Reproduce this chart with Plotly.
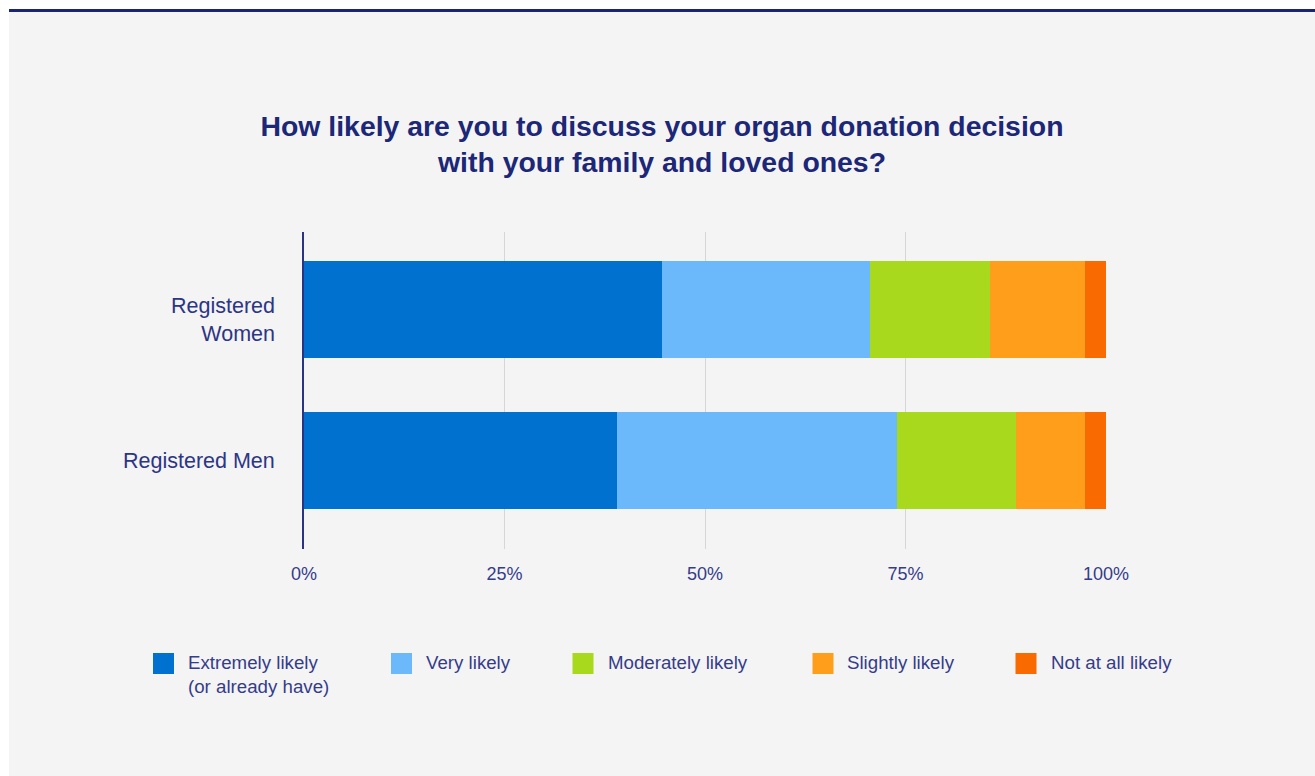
import plotly.graph_objects as go

# ---- data ----
groups = ["Registered Men", "Registered<br>Women"]
responses = ["Extremely likely<br>(or already have)", "Very likely", "Moderately likely",
             "Slightly likely", "Not at all likely"]
extremely = [39.0, 44.7]
very = [35.0, 25.9]
moderately = [14.8, 14.9]
slightly = [8.6, 11.9]
not_at_all = [2.6, 2.6]
series = [extremely, very, moderately, slightly, not_at_all]
colors = ["#0071ce", "#6bb9fb", "#a8d91c", "#ff9e1b", "#f96a00"]
tick_vals = [0, 25, 50, 75, 100]
tick_text = ["0%", "25%", "50%", "75%", "100%"]
title_text = "How likely are you to discuss your organ donation decision<br>with your family and loved ones?"

W, H = 1315, 776
L, R, T, B = 304, 1106, 232, 549  # plot area in pixels

def px(x):
    return (x - L) / (R - L)

def py(y):
    return (B - y) / (B - T)

FONT = "Liberation Sans, Arial, sans-serif"
NAVY = "#1c2777"
TXT = "#353c8a"

fig = go.Figure()
for name, vals, col in zip(responses, series, colors):
    fig.add_trace(go.Bar(
        y=groups, x=vals, name=name, orientation="h",
        marker=dict(color=col, line=dict(width=0)),
        showlegend=False,
        hovertemplate="%{x}%<extra></extra>",
    ))

shapes = [
    # textured-grey card background
    dict(type="rect", xref="paper", yref="paper", x0=px(9), x1=px(W + 5), y0=py(H + 5), y1=py(12),
         fillcolor="#f4f4f4", line=dict(width=0), layer="below"),
    # top navy rule
    dict(type="rect", xref="paper", yref="paper", x0=px(9), x1=px(W + 5), y0=py(12), y1=py(9),
         fillcolor="#1b2470", line=dict(width=0), layer="below"),
]

annotations = []
# category labels (placed on the category axis positions)
label_shift = [0, -11]
for g, s in zip(groups, label_shift):
    annotations.append(dict(xref="paper", yref="y", x=px(277), y=g, xanchor="right",
                            yanchor="middle", align="right", showarrow=False, yshift=s,
                            text=g, font=dict(family=FONT, size=21.5, color="#2d3585")))

sq_x = [153, 391, 572.5, 812.5, 1015.5]
txt_x = [186, 424, 606, 845, 1049]
for i, (name, col) in enumerate(zip(responses, colors)):
    shapes.append(dict(type="rect", xref="paper", yref="paper",
                       x0=px(sq_x[i]), x1=px(sq_x[i] + 21), y0=py(674), y1=py(653),
                       fillcolor=col, line=dict(width=0)))
    annotations.append(dict(xref="paper", yref="paper", x=px(txt_x[i]), y=py(650),
                            xanchor="left", yanchor="top", align="left", showarrow=False,
                            text=name, font=dict(family=FONT, size=18.7, color=TXT)))

fig.update_layout(
    width=W, height=H,
    margin=dict(l=L, r=W - R, t=T, b=H - B, pad=0),
    paper_bgcolor="white",
    plot_bgcolor="rgba(0,0,0,0)",
    barmode="stack",
    bargap=0.358,
    title=dict(text=title_text, xref="container", yref="container",
               x=662 / W, xanchor="center", y=1 - 135.5 / H, yanchor="top",
               font=dict(family=FONT, size=28.4, color=NAVY, weight="bold")),
    xaxis=dict(range=[0, 100], tickvals=tick_vals, ticktext=tick_text,
               showgrid=True, gridcolor="#d6d6d6", gridwidth=1, zeroline=False,
               showline=False, ticks="", ticklabelstandoff=12,
               tickfont=dict(family=FONT, size=18, color=TXT), fixedrange=True),
    yaxis=dict(range=[-0.586, 1.513], showgrid=False, zeroline=False,
               showline=True, linecolor="#2b3482", linewidth=2, ticks="",
               showticklabels=False, fixedrange=True),
    shapes=shapes,
    annotations=annotations,
    showlegend=False,
)

fig.write_html("out.html", config=dict(displayModeBar=False))
